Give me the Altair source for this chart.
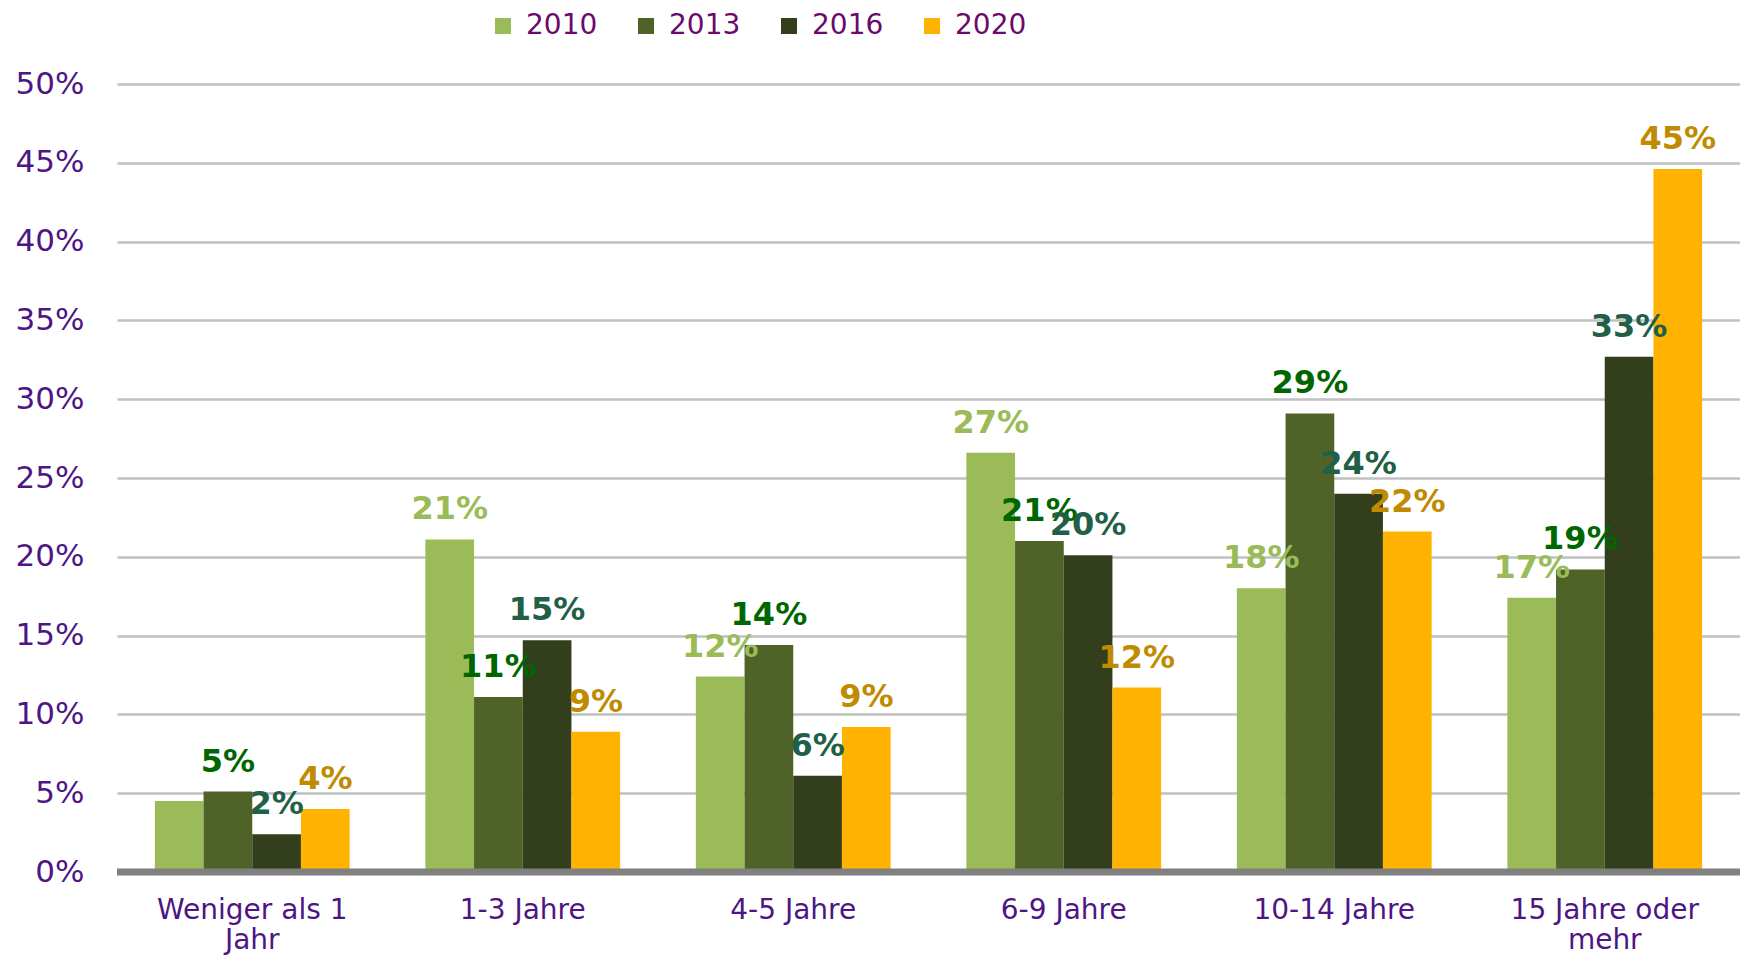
import altair as alt
import pandas as pd

categories = ["Weniger als 1 Jahr", "1-3 Jahre", "4-5 Jahre", "6-9 Jahre", "10-14 Jahre", "15 Jahre oder mehr"]
years = ["2010", "2013", "2016", "2020"]

values_2010 = [4.5, 21.1, 12.4, 26.6, 18.0, 17.4]
values_2013 = [5.1, 11.1, 14.4, 21.0, 29.1, 19.2]
values_2016 = [2.4, 14.7, 6.1, 20.1, 24.0, 32.7]
values_2020 = [4.0, 8.9, 9.2, 11.7, 21.6, 44.6]

labels_2010 = ["", "21%", "12%", "27%", "18%", "17%"]
labels_2013 = ["5%", "11%", "14%", "21%", "29%", "19%"]
labels_2016 = ["2%", "15%", "6%", "20%", "24%", "33%"]
labels_2020 = ["4%", "9%", "9%", "12%", "22%", "45%"]

bar_colors = ["#9BBB59", "#4F6228", "#333F1C", "#FFB300"]
label_colors = ["#9BBB59", "#006600", "#215F47", "#C08B00"]

rows = []
for year, vals, labs in zip(
    years,
    [values_2010, values_2013, values_2016, values_2020],
    [labels_2010, labels_2013, labels_2016, labels_2020],
):
    for c, v, l in zip(categories, vals, labs):
        rows.append({"cat": c, "year": year, "value": v / 100, "label": l})
df = pd.DataFrame(rows)

axis_purple = "#4E1585"
legend_purple = "#6B0A6B"

label_expr = (
    "datum.label == 'Weniger als 1 Jahr' ? ['Weniger als 1', 'Jahr'] : "
    "datum.label == '15 Jahre oder mehr' ? ['15 Jahre oder', 'mehr'] : datum.label"
)

x_enc = alt.X(
    "cat:N",
    sort=categories,
    scale=alt.Scale(paddingInner=0.28, paddingOuter=0.14),
    axis=alt.Axis(
        title=None,
        labelExpr=label_expr,
        labelFontSize=28,
        labelColor=axis_purple,
        labelPadding=24,
        labelLineHeight=30,
        labelLimit=0,
        ticks=False,
        domain=False,
        labelAngle=0,
        labelFont="DejaVu Sans",
    ),
)
y_enc = alt.Y(
    "value:Q",
    scale=alt.Scale(domain=[0, 0.5]),
    axis=alt.Axis(
        values=[i / 100 for i in range(0, 51, 5)],
        format=".0%",
        title=None,
        labelFontSize=31,
        labelColor=axis_purple,
        labelPadding=33,
        ticks=False,
        domain=False,
        gridColor="#C0C0C0",
        gridWidth=2.5,
        labelFont="DejaVu Sans",
    ),
)

base = alt.Chart(df)

bars = base.mark_bar().encode(
    x=x_enc,
    y=y_enc,
    xOffset=alt.XOffset("year:N", sort=years, scale=alt.Scale(paddingInner=0, paddingOuter=0)),
    color=alt.Color(
        "year:N",
        sort=years,
        scale=alt.Scale(domain=years, range=bar_colors),
        legend=alt.Legend(
            orient="none",
            legendX=372,
            legendY=-72,
            direction="horizontal",
            title=None,
            symbolType="square",
            symbolSize=256,
            symbolStrokeWidth=0,
            labelFontSize=28,
            labelColor=legend_purple,
            labelFont="DejaVu Sans",
            labelOffset=9,
            columnPadding=34,
            padding=0,
        ),
    ),
)

texts = base.mark_text(
    dy=-20, baseline="alphabetic", fontSize=32, fontWeight="bold", font="DejaVu Sans"
).encode(
    x=x_enc,
    y=y_enc,
    xOffset=alt.XOffset("year:N", sort=years, scale=alt.Scale(paddingInner=0, paddingOuter=0)),
    text="label:N",
    color=alt.Color("year:N", scale=alt.Scale(domain=years, range=label_colors), legend=None),
)

zero = alt.Chart(pd.DataFrame({"z": [0]})).mark_rule(color="#808080", strokeWidth=7).encode(
    y=alt.Y("z:Q", scale=alt.Scale(domain=[0, 0.5]))
)

chart = (
    alt.layer(bars, zero, texts)
    .resolve_scale(color="independent")
    .properties(
        width=1623,
        height=788,
        padding={"left": 109, "top": 76, "right": 0, "bottom": 83},
        autosize=alt.AutoSizeParams(type="none"),
    )
    .configure(font="DejaVu Sans")
    .configure_view(stroke=None)
)

chart.save("out.html", embed_options={"renderer": "svg", "actions": False})
